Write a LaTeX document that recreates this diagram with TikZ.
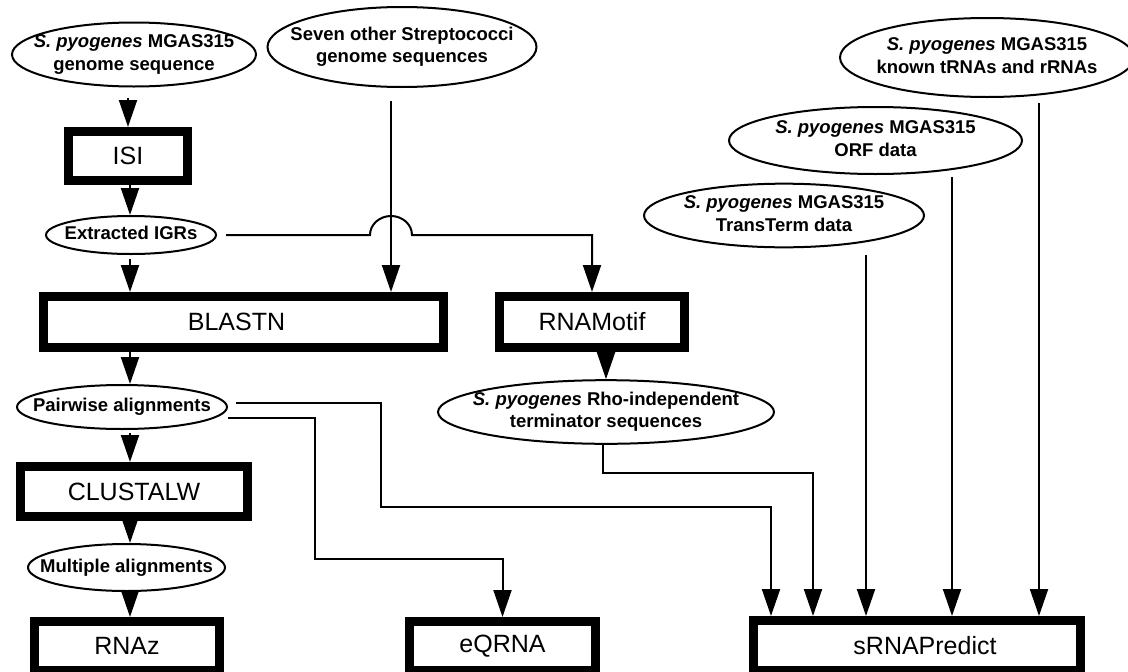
\documentclass[tikz,border=0pt]{standalone}
\usepackage{fontspec}
\setmainfont{Liberation Sans}
\usetikzlibrary{shapes.geometric,arrows.meta,calc}
\newcommand{\zt}[1]{\makebox[0pt]{\begin{tabular}{@{}c@{}}#1\end{tabular}}}
\newcommand{\spy}{\textit{S. pyogenes}}
\begin{document}
\begin{tikzpicture}[x=1pt,y=-1pt,
 box/.style={draw, line width=9pt, rectangle, inner sep=0pt, font=\fontsize{25}{30}\selectfont},
 ell/.style={draw, ellipse, line width=2pt, inner sep=0pt, font=\fontsize{18.5}{22.5}\selectfont\bfseries},
 con/.style={line width=2pt},
 arr/.style={line width=2pt, -{Triangle[length=27pt 0 0,width=18pt 0 0]}}]
\clip (0,0) rectangle (1128,672);
\fill[white] (0,0) rectangle (1128,672);

% boxes
\node[box, minimum width=119pt, minimum height=49pt] (ISI) at (128,156) {ISI};
\node[box, minimum width=400pt, minimum height=51pt] (BL) at (243.5,322) {\hspace*{-14pt}BLASTN};
\node[box, minimum width=185pt, minimum height=51pt] (RM) at (592,322) {RNAMotif};
\node[box, minimum width=227pt, minimum height=50pt] (CL) at (134,491.5) {CLUSTALW};
\node[box, minimum width=185pt, minimum height=49pt] (RZ) at (127,646) {RNAz};
\node[box, minimum width=186pt, minimum height=49pt] (EQ) at (502.5,646) {eQRNA};
\node[box, minimum width=327pt, minimum height=50pt] (SP) at (917,645.5) {\hspace*{16pt}sRNAPredict};

% ellipses
\node[ell, minimum width=244pt, minimum height=64pt] (E1) at (134,54.5) {\zt{\spy{} MGAS315\\genome sequence}};
\node[ell, minimum width=269pt, minimum height=80pt] (E2) at (402,47) {\zt{Seven other Streptococci\\genome sequences}};
\node[ell, minimum width=170pt, minimum height=38pt] (EX) at (131,235) {\zt{Extracted IGRs}};
\node[ell, minimum width=210pt, minimum height=44pt] (PW) at (122,407) {\zt{Pairwise alignments}};
\node[ell, minimum width=197pt, minimum height=47pt] (MU) at (126.5,567.5) {\zt{Multiple alignments}};
\node[ell, minimum width=336pt, minimum height=58pt] (RH) at (606,412) {\zt{\spy{} Rho-independent\\terminator sequences}};
\node[ell, minimum width=280pt, minimum height=63pt] (TT) at (784,215.5) {\zt{\spy{} MGAS315\\TransTerm data}};
\node[ell, minimum width=293pt, minimum height=67pt] (OR) at (875.5,140.5) {\zt{\spy{} MGAS315\\ORF data}};
\node[ell, minimum width=294pt, minimum height=79pt] (TR) at (987,57.5) {\zt{\spy{} MGAS315\\known tRNAs and rRNAs}};

% helper coordinates
\coordinate (cA) at (130,0);
\coordinate (cS) at (391,0);
\coordinate (j1) at (381,0);
\coordinate (j2) at (315,0);
\coordinate (j3) at (603,0);
\coordinate (r1) at (0,507);
\coordinate (r2) at (0,559);
\coordinate (r3) at (0,473);
\coordinate (s1) at (771,0);
\coordinate (s2) at (813,0);
\coordinate (s3) at (866,0);
\coordinate (s4) at (952,0);
\coordinate (s5) at (1039,0);

% left chain
\draw[arr] ($(ISI.north |- E1.south)+(0,10)$) -- (ISI.north);
\draw[arr] (cA |- ISI.south) -- (cA |- EX.north);
\draw[arr] ($(cA |- EX.south)+(0,4)$) -- (cA |- BL.north);
\draw[arr] (cA |- BL.south) -- (cA |- PW.north);
\draw[arr] ($(cA |- PW.south)+(0,3)$) -- (cA |- CL.north);
\draw[arr] (cA |- CL.south) -- (cA |- MU.north);
\draw[arr] (cA |- MU.south) -- (cA |- RZ.north);

% seven genomes
\draw[arr] ($(cS |- E2.south)+(0,13)$) -- (cS |- BL.north);

% extracted IGRs to RNAMotif with hop
\draw[arr] ($(EX.east)+(9,0)$) -- ($(cS |- EX.east)+(-21,0)$)
  arc[start angle=180, end angle=0, x radius=21pt, y radius=19pt]
  -- (EX.east -| RM.north) -- (RM.north);

\draw[arr] (RM.south -| RH.north) -- (RH.north);

% pairwise outputs
\draw[arr] ($(PW.east)+(8,-4)$) -- ($(j1 |- PW.east)+(0,-4)$) -- (j1 |- r1) -- (s1 |- r1) -- (s1 |- SP.north);
\draw[arr] ($(PW.east)+(0,11)$) -- ($(j2 |- PW.east)+(0,11)$) -- (j2 |- r2) -- (EQ.north |- r2) -- (EQ.north);

% terminators
\draw[arr] (j3 |- RH.south) -- (j3 |- r3) -- (s2 |- r3) -- (s2 |- SP.north);

% data inputs
\draw[arr] ($(s3 |- TT.south)+(0,7)$) -- (s3 |- SP.north);
\draw[arr] ($(s4 |- OR.south)+(0,2)$) -- (s4 |- SP.north);
\draw[arr] ($(s5 |- TR.south)+(0,5)$) -- (s5 |- SP.north);
\end{tikzpicture}
\end{document}
